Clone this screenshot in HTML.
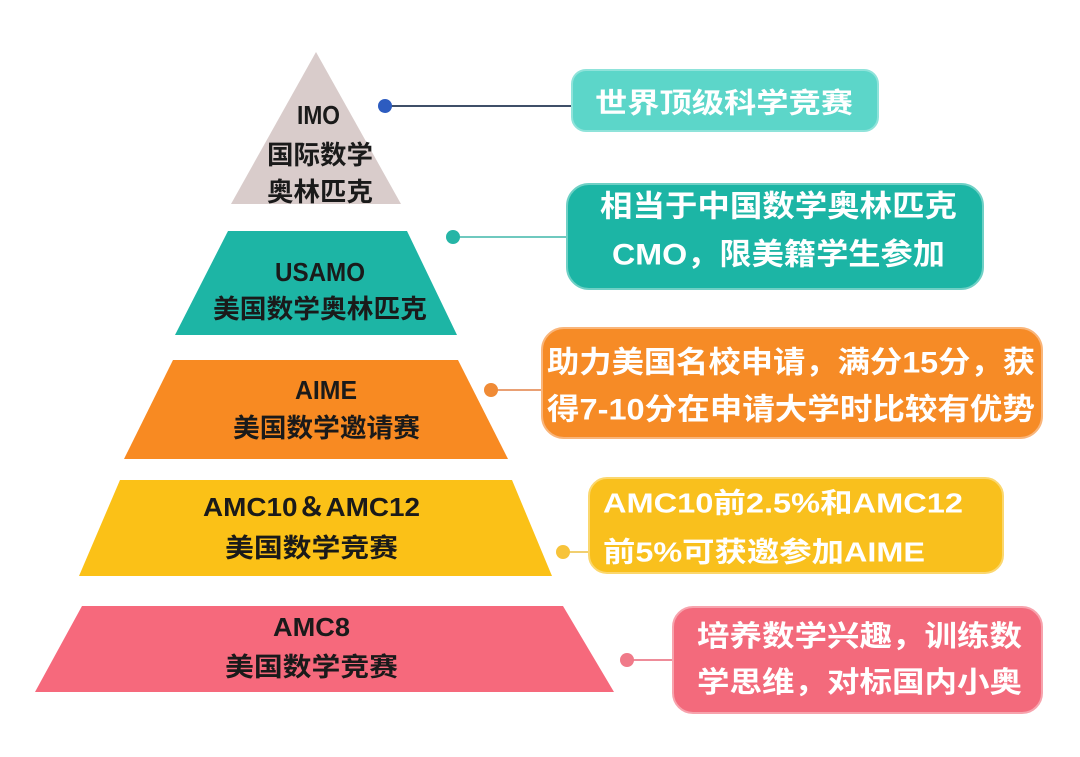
<!DOCTYPE html>
<html>
<head>
<meta charset="utf-8">
<style>
  html,body{margin:0;padding:0;background:#ffffff;}
  body{width:1080px;height:757px;overflow:hidden;}
  svg{display:block;}
  .lbl{font-family:"Liberation Sans","Noto Sans CJK SC",sans-serif;font-weight:700;fill:#1a1a1a;font-size:26px;}
  .wt{font-family:"Liberation Sans","Noto Sans CJK SC",sans-serif;font-weight:700;fill:#ffffff;font-size:29px;}
</style>
</head>
<body>
<svg width="1080" height="757" viewBox="0 0 1080 757" xmlns="http://www.w3.org/2000/svg">
  <rect x="0" y="0" width="1080" height="757" fill="#ffffff"/>

  <!-- Pyramid layers -->
  <polygon points="316,52 231,204 401,204" fill="#d9cccb"/>
  <polygon points="228,231 407,231 457,335 175,335" fill="#1db5a5"/>
  <polygon points="173,360 458,360 508,459 124,459" fill="#f88a22"/>
  <polygon points="120,480 512,480 552,576 79,576" fill="#fbc117"/>
  <polygon points="82,606 563,606 614,692 35,692" fill="#f6697c"/>

  <!-- Left labels -->
  <text class="lbl" x="297" y="115" dominant-baseline="central" textLength="43" lengthAdjust="spacingAndGlyphs">IMO</text>
  <text class="lbl" x="267" y="155" dominant-baseline="central" textLength="106" lengthAdjust="spacingAndGlyphs">国际数学</text>
  <text class="lbl" x="267" y="192" dominant-baseline="central" textLength="106" lengthAdjust="spacingAndGlyphs">奥林匹克</text>

  <text class="lbl" x="275" y="272" dominant-baseline="central" textLength="90" lengthAdjust="spacingAndGlyphs">USAMO</text>
  <text class="lbl" x="213" y="309" dominant-baseline="central" textLength="214" lengthAdjust="spacingAndGlyphs">美国数学奥林匹克</text>

  <text class="lbl" x="295" y="390" dominant-baseline="central" textLength="62" lengthAdjust="spacingAndGlyphs">AIME</text>
  <text class="lbl" x="233" y="428" dominant-baseline="central" textLength="187" lengthAdjust="spacingAndGlyphs">美国数学邀请赛</text>

  <text class="lbl" x="203" y="507" dominant-baseline="central" textLength="217" lengthAdjust="spacingAndGlyphs">AMC10＆AMC12</text>
  <text class="lbl" x="225" y="548" dominant-baseline="central" textLength="173" lengthAdjust="spacingAndGlyphs">美国数学竞赛</text>

  <text class="lbl" x="273" y="627" dominant-baseline="central" textLength="77" lengthAdjust="spacingAndGlyphs">AMC8</text>
  <text class="lbl" x="225" y="667" dominant-baseline="central" textLength="173" lengthAdjust="spacingAndGlyphs">美国数学竞赛</text>

  <!-- Connectors -->
  <line x1="385" y1="106" x2="573" y2="106" stroke="#3f4f68" stroke-width="2"/>
  <circle cx="385" cy="106" r="7" fill="#2d5cc0"/>

  <line x1="453" y1="237" x2="568" y2="237" stroke="#6fc9bf" stroke-width="2"/>
  <circle cx="453" cy="237" r="7" fill="#26b5a6"/>

  <line x1="491" y1="390" x2="544" y2="390" stroke="#e9a074" stroke-width="2"/>
  <circle cx="491" cy="390" r="7" fill="#f08b36"/>

  <line x1="563" y1="552" x2="590" y2="552" stroke="#f1cf70" stroke-width="2"/>
  <circle cx="563" cy="552" r="7" fill="#f7c33a"/>

  <line x1="627" y1="660" x2="675" y2="660" stroke="#ee8c99" stroke-width="2"/>
  <circle cx="627" cy="660" r="7" fill="#f07a89"/>

  <!-- Right boxes -->
  <rect x="572" y="70" width="306" height="61" rx="14" ry="14" fill="#5cd6c9" stroke="#8fe3da" stroke-width="2"/>
  <text class="wt" x="595" y="103" dominant-baseline="central" textLength="258" lengthAdjust="spacingAndGlyphs" style="font-size:28px">世界顶级科学竞赛</text>

  <rect x="567" y="184" width="416" height="105" rx="22" ry="22" fill="#1cb5a5" stroke="#6fd0c5" stroke-width="2"/>
  <text class="wt" x="600" y="207" dominant-baseline="central" textLength="357" lengthAdjust="spacingAndGlyphs" style="font-size:30px">相当于中国数学奥林匹克</text>
  <text class="wt" x="612" y="255" dominant-baseline="central" textLength="333" lengthAdjust="spacingAndGlyphs" style="font-size:30px">CMO，限美籍学生参加</text>

  <rect x="542" y="328" width="500" height="110" rx="22" ry="22" fill="#f68b26" stroke="#f9b57a" stroke-width="2"/>
  <text class="wt" x="547" y="363" dominant-baseline="central" textLength="488" lengthAdjust="spacingAndGlyphs" style="font-size:30px">助力美国名校申请，满分15分，获</text>
  <text class="wt" x="547" y="410" dominant-baseline="central" textLength="488" lengthAdjust="spacingAndGlyphs" style="font-size:30px">得7-10分在申请大学时比较有优势</text>

  <rect x="589" y="478" width="414" height="95" rx="18" ry="18" fill="#f9c01d" stroke="#fbd76e" stroke-width="2"/>
  <text class="wt" x="603" y="503" dominant-baseline="central" textLength="360" lengthAdjust="spacingAndGlyphs" style="font-size:28px">AMC10前2.5%和AMC12</text>
  <text class="wt" x="603" y="552" dominant-baseline="central" textLength="322" lengthAdjust="spacingAndGlyphs" style="font-size:28px">前5%可获邀参加AIME</text>

  <rect x="673" y="607" width="369" height="106" rx="20" ry="20" fill="#f36a7c" stroke="#f7a3ad" stroke-width="2"/>
  <text class="wt" x="697" y="637" dominant-baseline="central" textLength="325" lengthAdjust="spacingAndGlyphs" style="font-size:29px">培养数学兴趣，训练数</text>
  <text class="wt" x="697" y="683" dominant-baseline="central" textLength="325" lengthAdjust="spacingAndGlyphs" style="font-size:29px">学思维，对标国内小奥</text>
</svg>
</body>
</html>
